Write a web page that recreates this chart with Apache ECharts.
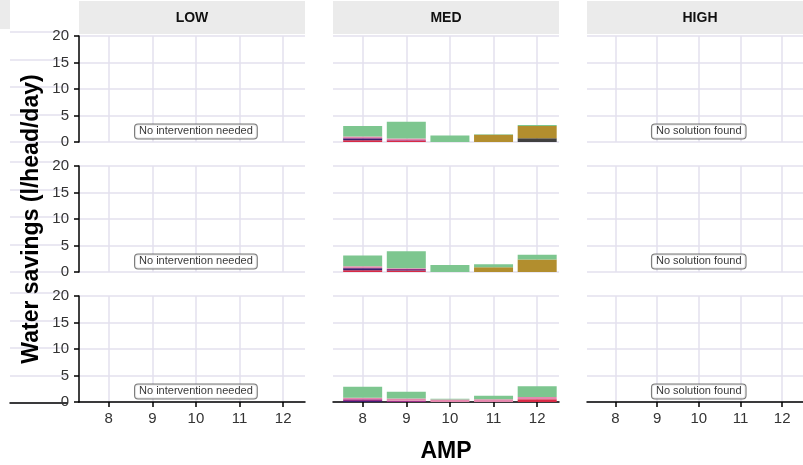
<!DOCTYPE html>
<html><head><meta charset="utf-8">
<script src="https://cdn.jsdelivr.net/npm/echarts@6/dist/echarts.min.js"></script>
<style>html,body{margin:0;padding:0;background:#fff}#c{width:803px;height:465px}</style>
</head><body><div id="c"></div>
<script>
// ---- data ----
const ampTicks = [8, 9, 10, 11, 12];
const scenarios = ['LOW', 'MED', 'HIGH'];
const lowNote = 'No intervention needed';
const highNote = 'No solution found';
const yTitle = 'Water savings (l/head/day)';
const xTitle = 'AMP';

// MED column values, one array per segment and facet row (top, middle, bottom)
const red_r1    = [0.35, 0.30, 0, 0, 0];
const gray_r1   = [0, 0, 0, 0, 0.70];
const navy_r1   = [0.30, 0, 0, 0, 0];
const purple_r1 = [0.10, 0.10, 0, 0, 0];
const pink_r1   = [0.30, 0.25, 0, 0, 0];
const olive_r1  = [0, 0, 0, 1.35, 2.30];
const green_r1  = [1.95, 3.15, 1.25, 0.10, 0.20];

const red_r2    = [0.35, 0.30, 0, 0, 0];
const gray_r2   = [0, 0, 0, 0, 0];
const navy_r2   = [0.35, 0.10, 0, 0, 0];
const purple_r2 = [0.05, 0.15, 0, 0, 0];
const pink_r2   = [0.35, 0.15, 0, 0, 0];
const olive_r2  = [0, 0, 0, 0.90, 2.35];
const green_r2  = [2.00, 3.20, 1.30, 0.55, 0.90];

const red_r3    = [0, 0, 0, 0, 0.50];
const gray_r3   = [0, 0, 0, 0, 0];
const navy_r3   = [0.20, 0, 0, 0, 0];
const purple_r3 = [0.30, 0.25, 0, 0, 0];
const pink_r3   = [0.30, 0.40, 0.45, 0.50, 0.45];
const olive_r3  = [0, 0, 0, 0, 0];
const green_r3  = [2.10, 1.30, 0.15, 0.70, 2.00];

const segments = [
  {name: 'red',    color: '#D92A45', rows: [red_r1, red_r2, red_r3]},
  {name: 'gray',   color: '#404040', rows: [gray_r1, gray_r2, gray_r3]},
  {name: 'navy',   color: '#3A1E6E', rows: [navy_r1, navy_r2, navy_r3]},
  {name: 'purple', color: '#9A2E86', rows: [purple_r1, purple_r2, purple_r3]},
  {name: 'pink',   color: '#E688AE', rows: [pink_r1, pink_r2, pink_r3]},
  {name: 'olive',  color: '#B28E2E', rows: [olive_r1, olive_r2, olive_r3]},
  {name: 'green',  color: '#7DC68F', rows: [green_r1, green_r2, green_r3]}
];

// ---- layout ----
const FONT = 'Liberation Sans, Arial, sans-serif';
const colLeft = [79, 333, 587];
const colWidth = 226;
const rowTop = [36, 166, 296];
const rowH = 106;
const xMin = 7.32, xMax = 12.5;
const gridColor = '#E3E1EE';

const grids = [], xAxes = [], yAxes = [], series = [];
const gridIdx = {};

for (let r = 0; r < 3; r++) {
  for (let c = 0; c < 3; c++) {
    const idx = grids.length;
    gridIdx[r + '_' + c] = idx;
    const bottom = r === 2;
    grids.push({left: colLeft[c], top: rowTop[r], width: colWidth, height: rowH});
    xAxes.push({
      gridIndex: idx, type: 'value', min: xMin, max: xMax,
      axisLine: {show: bottom, onZero: false, lineStyle: {color: '#000', width: 1.5}},
      axisTick: {show: bottom, customValues: ampTicks, length: 5, lineStyle: {color: '#000', width: 1.5}},
      axisLabel: {show: bottom, customValues: ampTicks, fontSize: 15, color: '#333', margin: 9, fontFamily: FONT},
      splitLine: {show: true, lineStyle: {color: gridColor, width: 1.5}},
      name: (bottom && c === 1) ? xTitle : '',
      nameLocation: 'middle', nameGap: 38,
      nameTextStyle: {fontSize: 23, fontWeight: 'bold', color: '#000', fontFamily: FONT}
    });
    yAxes.push({
      gridIndex: idx, type: 'value', min: 0, max: 20, interval: 5,
      axisLine: {show: c === 0, lineStyle: {color: '#000', width: 1.5}},
      axisTick: {show: c === 0, length: 5, lineStyle: {color: '#000', width: 1.5}},
      axisLabel: {show: c === 0, fontSize: 15, color: '#333', margin: 10, fontFamily: FONT},
      splitLine: {show: true, lineStyle: {color: gridColor, width: 1.5}},
      name: (c === 0 && r === 1) ? yTitle : '',
      nameLocation: 'middle', nameGap: 36,
      nameTextStyle: {fontSize: 23, fontWeight: 'bold', color: '#000', fontFamily: FONT}
    });
  }
}

// cut-off panels of a neighbouring facet at the far left
const leftTops = [32, 162, 293];
for (let r = 0; r < 3; r++) {
  const idx = grids.length;
  grids.push({left: -220, top: leftTops[r], width: 230, height: 110});
  xAxes.push({gridIndex: idx, type: 'value', min: 0, max: 1,
    axisLine: {show: r === 2, onZero: false, lineStyle: {color: '#000', width: 1.5}},
    axisTick: {show: false}, axisLabel: {show: false}, splitLine: {show: false}});
  yAxes.push({gridIndex: idx, type: 'value', min: 0, max: 20, interval: 5,
    axisLine: {show: false}, axisTick: {show: false}, axisLabel: {show: false},
    splitLine: {show: true, lineStyle: {color: gridColor, width: 1.5}}});
}

// stacked bars in MED column (value dimension first so the stack applies to y)
for (let r = 0; r < 3; r++) {
  const gi = gridIdx[r + '_1'];
  segments.forEach(seg => {
    series.push({
      type: 'bar', name: seg.name, xAxisIndex: gi, yAxisIndex: gi,
      stack: 'row' + r, barWidth: 39,
      encode: {x: 1, y: 0},
      itemStyle: {color: seg.color},
      data: ampTicks.map((a, i) => [seg.rows[r][i], a])
    });
  });
}

// annotation labels in LOW and HIGH columns
const noteStyle = {
  show: true, position: 'inside', fontSize: 11, color: '#000', fontFamily: FONT,
  backgroundColor: '#fff', borderColor: '#555', borderWidth: 1, borderRadius: 3,
  padding: [2, 4, 1, 4]
};
for (let r = 0; r < 3; r++) {
  [[0, lowNote], [2, highNote]].forEach(([c, txt]) => {
    const gi = gridIdx[r + '_' + c];
    series.push({
      type: 'scatter', xAxisIndex: gi, yAxisIndex: gi, symbolSize: 1,
      itemStyle: {color: 'rgba(0,0,0,0)'}, z: 5, silent: true,
      label: Object.assign({formatter: txt}, noteStyle),
      data: [[10, 2]]
    });
  });
}

// facet strips
const graphic = [{type: 'rect', shape: {x: 0, y: 0, width: 10, height: 29}, style: {fill: '#EBEBEB'}}];
scenarios.forEach((s, c) => {
  graphic.push({type: 'rect', shape: {x: colLeft[c], y: 1, width: colWidth, height: 33}, style: {fill: '#EBEBEB'}});
  graphic.push({type: 'text', x: colLeft[c] + colWidth / 2, y: 18,
    style: {text: s, fontSize: 14, fontWeight: 'bold', fill: '#111', align: 'center', verticalAlign: 'middle', fontFamily: FONT}});
});

const chart = echarts.init(document.getElementById('c'), null, {renderer: 'canvas'});
chart.setOption({
  animation: false,
  backgroundColor: '#fff',
  grid: grids, xAxis: xAxes, yAxis: yAxes, series: series, graphic: graphic
});
</script>
</body></html>
